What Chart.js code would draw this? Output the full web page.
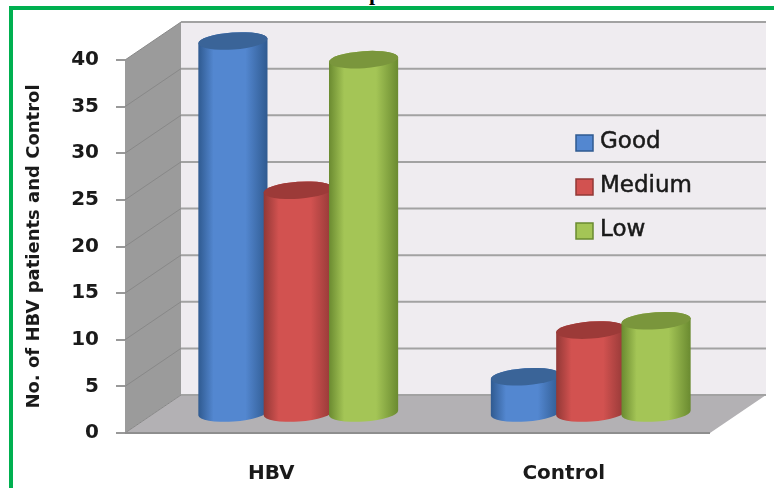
<!DOCTYPE html>
<html>
<head>
<meta charset="utf-8">
<title>HBV patients and Control</title>
<script src="https://cdn.jsdelivr.net/npm/chart.js@4"></script>
<style>
    html, body { margin: 0; padding: 0; background: #fff; overflow: hidden; }
    #wrap { position: relative; width: 774px; height: 488px; overflow: hidden; }
    #frame { position: absolute; left: 9px; top: 6px; width: 780px; height: 500px; border: 4px solid #00b050; box-sizing: border-box; }
    #heading { position: absolute; left: 172px; top: -20px; white-space: nowrap; font: bold 22px "Liberation Serif", serif; color: #000; transform: translateY(0.4px); }
    #chart { position: absolute; left: 0; top: 0; filter: blur(0.5px); }
</style>
</head>
<body>
<div id="wrap">
    <div id="heading">Distribution of HBV patients and Control based on Ranks</div>
    <div id="frame"></div>
    <canvas id="chart" width="774" height="488"></canvas>
</div>
<script>
// values
const categories = ['HBV', 'Control'];
const goodValues = [40, 4];
const mediumValues = [24, 9];
const lowValues = [38, 10];
const yTicks = [0, 5, 10, 15, 20, 25, 30, 35, 40];
const yTitle = 'No. of HBV patients and Control';

// edge, light, top colours of each cylinder
const blueShades = ['#2f5a90', '#5387d0', '#3a6498'];
const redShades = ['#923836', '#d25250', '#9c3a38'];
const greenShades = ['#6a8a30', '#a4c556', '#7a963c'];

const depthX = 56;
const depthY = 38;

// walls and floor behind the bars
const roomPlugin = {
    id: 'room',
    beforeDatasetsDraw(chart) {
        const ctx = chart.ctx;
        const area = chart.chartArea;
        const y = chart.scales.y;
        const top = y.getPixelForValue(40);
        const bottom = y.getPixelForValue(0);

        ctx.save();
        ctx.fillStyle = '#efecf0';
        ctx.fillRect(area.left + depthX, top - depthY, area.width, bottom - top);

        ctx.fillStyle = '#9b9b9b';
        ctx.beginPath();
        ctx.moveTo(area.left, bottom);
        ctx.lineTo(area.left + depthX, bottom - depthY);
        ctx.lineTo(area.left + depthX, top - depthY);
        ctx.lineTo(area.left, top);
        ctx.closePath();
        ctx.fill();

        ctx.fillStyle = '#b3b1b4';
        ctx.beginPath();
        ctx.moveTo(area.left, bottom);
        ctx.lineTo(area.left + depthX, bottom - depthY);
        ctx.lineTo(area.right + depthX, bottom - depthY);
        ctx.lineTo(area.right, bottom);
        ctx.closePath();
        ctx.fill();

        yTicks.forEach(v => {
            const py = y.getPixelForValue(v);
            ctx.strokeStyle = '#a2a2a2';
            ctx.lineWidth = 2;
            ctx.beginPath();
            ctx.moveTo(area.left + depthX, py - depthY);
            ctx.lineTo(area.right + depthX, py - depthY);
            ctx.stroke();
            ctx.strokeStyle = '#888';
            ctx.lineWidth = 1;
            ctx.beginPath();
            ctx.moveTo(area.left, py);
            ctx.lineTo(area.left + depthX, py - depthY);
            ctx.stroke();
        });

        ctx.strokeStyle = '#8e8e8e';
        ctx.lineWidth = 2;
        ctx.beginPath();
        ctx.moveTo(area.left, bottom);
        ctx.lineTo(area.right, bottom);
        ctx.stroke();
        ctx.restore();
    }
};

// turns each bar element into a cylinder standing mid-way into the floor
const cylinderPlugin = {
    id: 'cylinder',
    afterDatasetsDraw(chart) {
        const ctx = chart.ctx;
        chart.data.datasets.forEach((ds, i) => {
            const shades = ds.shades;
            chart.getDatasetMeta(i).data.forEach(bar => {
                const cx = bar.x + depthX / 2 - 1;
                const topY = bar.y - depthY / 2;
                const baseY = bar.base - depthY / 2;
                const rx = bar.width / 2 + 2;
                const ry = 8.5;
                const tilt = -0.07;

                const side = ctx.createLinearGradient(cx - rx, 0, cx + rx, 0);
                side.addColorStop(0, shades[0]);
                side.addColorStop(0.22, shades[1]);
                side.addColorStop(0.68, shades[1]);
                side.addColorStop(1, shades[0]);

                ctx.save();
                ctx.fillStyle = side;
                ctx.beginPath();
                ctx.ellipse(cx, baseY, rx, ry, tilt, 0, Math.PI);
                ctx.ellipse(cx, topY, rx, ry, tilt, Math.PI, 0);
                ctx.closePath();
                ctx.fill();

                ctx.fillStyle = shades[2];
                ctx.beginPath();
                ctx.ellipse(cx, topY, rx, ry, tilt, 0, Math.PI * 2);
                ctx.fill();
                ctx.restore();
            });
        });
    }
};

// legend sits on the back wall, so it is placed by hand
const wallLegendPlugin = {
    id: 'wallLegend',
    afterDraw(chart) {
        const ctx = chart.ctx;
        const rows = [143, 187, 231];
        ctx.save();
        ctx.textBaseline = 'middle';
        ctx.font = '23px "DejaVu Sans"';
        chart.data.datasets.forEach((ds, i) => {
            ctx.fillStyle = ds.shades[1];
            ctx.strokeStyle = ds.shades[0];
            ctx.lineWidth = 1.5;
            ctx.fillRect(576, rows[i] - 8, 17, 16);
            ctx.strokeRect(576, rows[i] - 8, 17, 16);
            ctx.fillStyle = '#1a1a1a';
            ctx.strokeStyle = '#1a1a1a';
            ctx.lineWidth = 0.5;
            ctx.fillText(ds.label, 600, rows[i] - 1);
            ctx.strokeText(ds.label, 600, rows[i] - 1);
        });
        ctx.restore();
    }
};

function makeDataset(label, data, shades) {
    return {
        label: label,
        data: data,
        shades: shades,
        clip: false,
        backgroundColor: 'rgba(0,0,0,0)',
        borderWidth: 0,
        categoryPercentage: 0.67,
        barPercentage: 1
    };
}

new Chart(document.getElementById('chart'), {
    type: 'bar',
    data: {
        labels: categories,
        datasets: [
            makeDataset('Good', goodValues, blueShades),
            makeDataset('Medium', mediumValues, redShades),
            makeDataset('Low', lowValues, greenShades)
        ]
    },
    options: {
        responsive: false,
        animation: false,
        layout: { padding: { top: 60, right: 64, left: 0, bottom: 0 } },
        plugins: {
            legend: { display: false },
            tooltip: { enabled: false }
        },
        scales: {
            x: {
                grid: { display: false },
                border: { display: false },
                ticks: {
                    padding: 21,
                    color: '#1a1a1a',
                    font: { family: '"DejaVu Sans"', weight: 'bold', size: 20 }
                },
                afterFit(scale) { scale.height = 55; }
            },
            y: {
                min: 0,
                max: 40,
                afterBuildTicks(scale) { scale.ticks = yTicks.map(v => ({ value: v })); },
                title: {
                    display: true,
                    text: yTitle,
                    color: '#1a1a1a',
                    padding: { top: 24, bottom: 0 },
                    font: { family: '"DejaVu Sans"', weight: 'bold', size: 18 }
                },
                grid: { drawOnChartArea: false, tickLength: 9, color: '#999', lineWidth: 2 },
                border: { display: false },
                ticks: {
                    padding: 17,
                    color: '#1a1a1a',
                    font: { family: '"DejaVu Sans"', weight: 'bold', size: 20 }
                },
                afterFit(scale) { scale.width = 125; }
            }
        }
    },
    plugins: [roomPlugin, cylinderPlugin, wallLegendPlugin]
});
</script>
</body>
</html>
